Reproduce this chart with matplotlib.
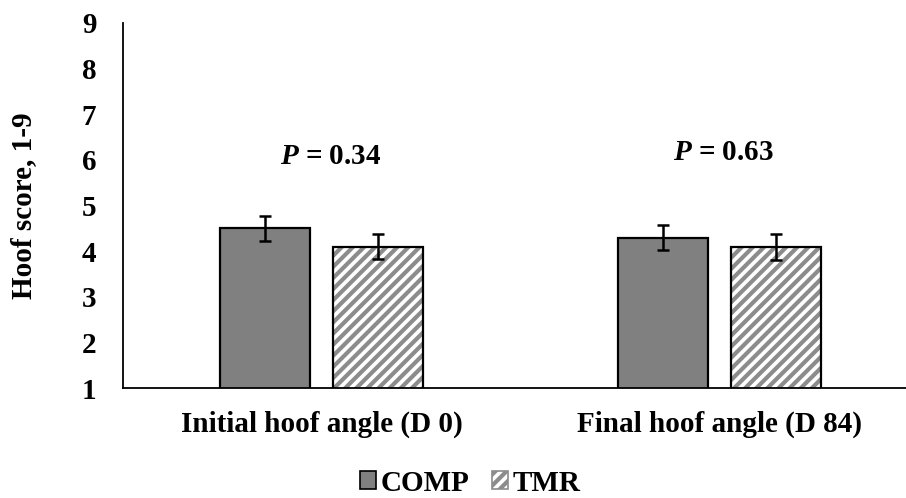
import matplotlib.pyplot as plt
import numpy as np
from matplotlib.patches import Patch

# hoof scores by treatment, initial and final
periods = ["Initial hoof angle (D 0)", "Final hoof angle (D 84)"]
comp = [4.5, 4.3]
tmr = [4.1, 4.1]
comp_se = [0.27, 0.28]
tmr_se = [0.27, 0.28]
p_values = ["0.34", "0.63"]
p_pos = [6.07, 6.15]

plt.rcParams['font.family'] = ['Liberation Serif', 'DejaVu Serif']
plt.rcParams['font.weight'] = 'bold'
plt.rcParams['mathtext.fontset'] = 'custom'
plt.rcParams['mathtext.bfit'] = 'Liberation Serif:bold:italic'
plt.rcParams['mathtext.rm'] = 'Liberation Serif:bold'
plt.rcParams['hatch.linewidth'] = 3.0
plt.rcParams['hatch.color'] = '#8c8c8c'

FS = 21

fig = plt.figure(figsize=(9.06, 4.98), dpi=100)
ax = fig.add_axes([0.1355, 0.22, 0.8645, 0.7345])

x = np.arange(len(periods))
w = 0.226
off = 0.142

ax.bar(x - off, comp, w, color='#808080', edgecolor='black', linewidth=1.6, zorder=2)
ax.errorbar(x - off, comp, yerr=comp_se, fmt='none', ecolor='black', elinewidth=1.8, capsize=4.5, capthick=1.8, zorder=3)

# hatched bars: hatch first, then the black outline on top
ax.bar(x + off, tmr, w, color='white', edgecolor='#8c8c8c', hatch='///', linewidth=0, zorder=2)
ax.bar(x + off, tmr, w, fill=False, edgecolor='black', linewidth=1.6, zorder=2)
ax.errorbar(x + off, tmr, yerr=tmr_se, fmt='none', ecolor='black', elinewidth=1.8, capsize=4.5, capthick=1.8, zorder=3)

for xi, p, yp in zip([0.024, 1.01], p_values, p_pos):
    ax.text(xi, yp, r"$\mathbfit{P}$ = " + p, ha='center', va='center', fontsize=FS, fontweight='bold')

ax.set_ylim(1, 9)
ax.set_yticks(range(1, 10))
ax.set_xlim(-0.5, 1.47)
ax.set_xticks(x)
ax.set_xticklabels(periods, fontsize=FS, fontweight='bold')
ax.tick_params(axis='both', length=0, labelsize=FS)
ax.tick_params(axis='x', pad=16)
ax.tick_params(axis='y', pad=19)
ax.set_ylabel("Hoof score, 1-9", fontsize=FS, fontweight='bold', labelpad=32)
ax.spines['top'].set_visible(False)
ax.spines['right'].set_visible(False)
ax.spines['left'].set_linewidth(1.3)
ax.spines['bottom'].set_linewidth(1.3)

handles = [Patch(facecolor='#808080', edgecolor='black', linewidth=1.2),
           Patch(facecolor='white', edgecolor='#8c8c8c', hatch='///', linewidth=1.2)]
fig.legend(handles, ["COMP", "TMR"], loc='center', bbox_to_anchor=(0.519, 0.03), ncol=2,
           frameon=False, handlelength=0.55, handleheight=0.55,
           handletextpad=0.15, columnspacing=0.8, prop={'weight': 'bold', 'size': FS})

plt.savefig("out.png", dpi=100)
